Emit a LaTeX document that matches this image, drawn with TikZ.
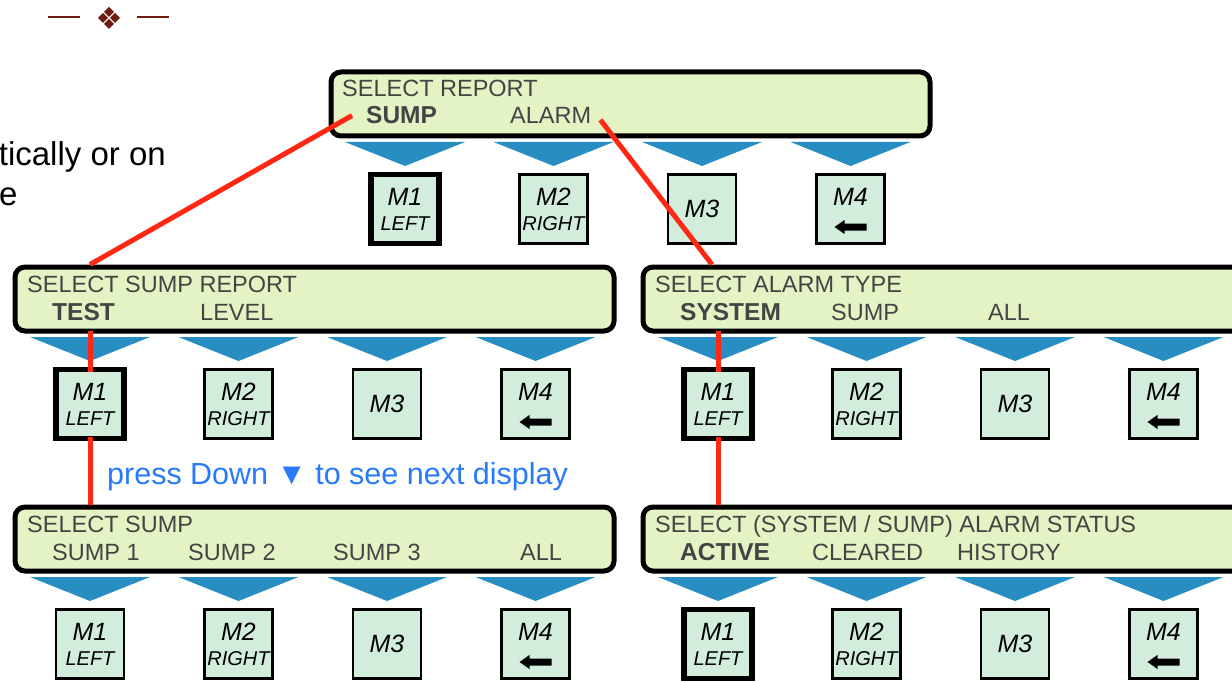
\documentclass[tikz,border=0pt]{standalone}
\usepackage{fontspec}
\setmainfont{Liberation Sans}

\definecolor{lcdgreen}{RGB}{228,243,196}
\definecolor{keygreen}{RGB}{211,237,220}
\definecolor{triblue}{RGB}{40,141,193}
\definecolor{lcdtext}{RGB}{68,68,68}
\definecolor{wirered}{RGB}{255,40,20}
\definecolor{hintblue}{RGB}{40,122,250}
\definecolor{ornament}{RGB}{110,28,16}

\tikzset{
  panel/.style={draw=black, line width=5pt, rounded corners=10pt, fill=lcdgreen, minimum width=599pt, minimum height=64pt, anchor=north west, inner sep=0pt},
  lcd/.style={font=\fontsize{23.5}{24}\selectfont, text=lcdtext, inner sep=0pt, anchor=base west},
  lcdsel/.style={lcd, font=\fontsize{24.5}{24}\selectfont\bfseries},
  softkey/.style={draw=black, line width=2.5pt, fill=keygreen, minimum width=68pt, minimum height=69pt, inner sep=0pt, align=center, font=\fontsize{25}{25}\selectfont\itshape},
  selkey/.style={line width=5.5pt},
  tri/.style={fill=triblue},
  wire/.style={draw=wirered, line width=5pt},
  backarrow/.pic={\fill (-16,0) -- (-6,-7) -- (-6,-3.5) -- (16,-3.5) -- (16,3.5) -- (-6,3.5) -- (-6,7) -- cycle;}
}

% one row of soft keys under a display: name, x of first key, y of the pointers, style of M1
\newcommand{\menurow}[4]{%
  \foreach \i in {0,...,3}
    \fill[tri] (#2+148.5*\i-60,#3) -- (#2+148.5*\i+60,#3) -- (#2+148.5*\i,#3+24) -- cycle;
  \node[softkey,#4] (#1key1) at (#2,#3+67) {M1\\{\fontsize{20}{20}\selectfont LEFT}};
  \node[softkey] (#1key2) at (#2+148.5,#3+67) {M2\\{\fontsize{20}{20}\selectfont RIGHT}};
  \node[softkey] (#1key3) at (#2+297,#3+67) {M3};
  \node[softkey] (#1key4) at (#2+445.5,#3+67) {M4\\{\fontsize{20}{20}\selectfont\phantom{LEFT}}};
  \pic at ([yshift=-18pt]#1key4.center) {backarrow};
}

\begin{document}
\begin{tikzpicture}[x=1pt, y=-1pt]
  \clip (0,0) rectangle (1232,682);

  % ornament and cut-off body text
  \draw[ornament, line width=2pt] (48,17) -- (80,17);
  \draw[ornament, line width=2pt] (137,17) -- (169,17);
  \foreach \dx/\dy in {0/-6,0/6,-6/0,6/0}
    \fill[ornament] (109+\dx,18+\dy) +(-5,0) -- +(0,-5) -- +(5,0) -- +(0,5) -- cycle;
  \node[font=\fontsize{33}{33}\selectfont, inner sep=0pt, anchor=base east] (para1) at (166,166) {tically or on};
  \node[font=\fontsize{33}{33}\selectfont, inner sep=0pt, anchor=base west] (para2) at (-1,205) {e};

  % Define the displays
  \node[panel] (report) at (328.5,69.5) {};
  \node[lcd] (reporttitle) at (342,97) {SELECT REPORT};
  \node[lcdsel] (reportsump) at (366,124) {SUMP};
  \node[lcd] (reportalarm) at (510,124) {ALARM};

  \node[panel] (sumpreport) at (12.5,264.5) {};
  \node[lcd] (sumpreporttitle) at (27,292) {SELECT SUMP REPORT};
  \node[lcdsel] (sumpreporttest) at (52,320) {TEST};
  \node[lcd] (sumpreportlevel) at (200,320) {LEVEL};

  \node[panel] (alarmtype) at (640.5,264.5) {};
  \node[lcd] (alarmtypetitle) at (655,292) {SELECT ALARM TYPE};
  \node[lcdsel] (alarmtypesystem) at (680,320) {SYSTEM};
  \node[lcd] (alarmtypesump) at (831,320) {SUMP};
  \node[lcd] (alarmtypeall) at (988,320) {ALL};

  \node[panel] (sumpselect) at (12.5,504.5) {};
  \node[lcd] (sumpselecttitle) at (27,532) {SELECT SUMP};
  \node[lcd] (sumpselectone) at (52,560) {SUMP 1};
  \node[lcd] (sumpselecttwo) at (188,560) {SUMP 2};
  \node[lcd] (sumpselectthree) at (333,560) {SUMP 3};
  \node[lcd] (sumpselectall) at (520,560) {ALL};

  \node[panel] (alarmstatus) at (640.5,504.5) {};
  \node[lcd] (alarmstatustitle) at (655,532) {SELECT (SYSTEM / SUMP) ALARM STATUS};
  \node[lcdsel] (alarmstatusactive) at (680,560) {ACTIVE};
  \node[lcd] (alarmstatuscleared) at (812,560) {CLEARED};
  \node[lcd] (alarmstatushistory) at (957,560) {HISTORY};

  % soft keys
  \menurow{report}{405}{142}{selkey}
  \menurow{sumpreport}{90}{337}{selkey}
  \menurow{alarmtype}{718}{337}{selkey}
  \menurow{sumpselect}{90}{577}{}
  \menurow{alarmstatus}{718}{577}{selkey}

  \node[font=\fontsize{30.5}{30}\selectfont, text=hintblue, inner sep=0pt, anchor=base west] (hint) at (107,484) {press Down ▼ to see next display};

  % red paths through the menus
  \coordinate (alarmdrop) at (712,264.5);
  \draw[wire] ([xshift=-14pt]reportsump.west) -- (sumpreport.north -| sumpreportkey1);
  \draw[wire] ([xshift=9pt,yshift=-4pt]reportalarm.east) -- (alarmdrop);
  \draw[wire, shorten <=-3pt, shorten >=-5pt] (sumpreport.south -| sumpreportkey1) -- (sumpreportkey1.north);
  \draw[wire, shorten <=-4pt] (sumpreportkey1.south) -- (sumpselect.north -| sumpreportkey1);
  \draw[wire, shorten <=-3pt, shorten >=-5pt] (alarmtype.south -| alarmtypekey1) -- (alarmtypekey1.north);
  \draw[wire, shorten <=-4pt] (alarmtypekey1.south) -- (alarmstatus.north -| alarmtypekey1);
\end{tikzpicture}
\end{document}
